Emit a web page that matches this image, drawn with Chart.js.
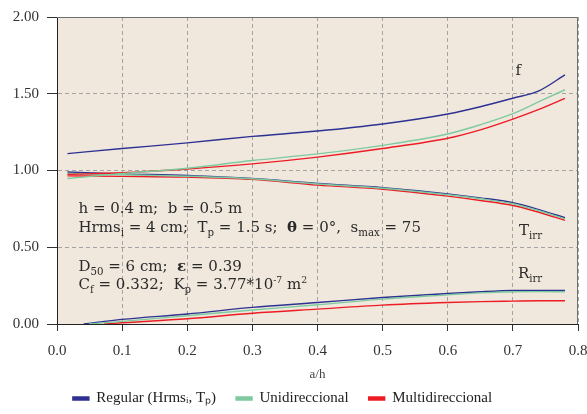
<!DOCTYPE html>
<html><head><meta charset="utf-8">
<script src="https://cdn.jsdelivr.net/npm/chart.js@4.4.1/dist/chart.umd.min.js"></script>
<style>html,body{margin:0;padding:0;background:#fff;}#wrap{width:587px;height:414px;}</style>
</head><body><div id="wrap"><canvas id="c" width="587" height="414"></canvas></div>
<script>
// ---- data ----
const seriesNames = ['Regular (Hrmsᵢ, Tₚ)', 'Unidireccional', 'Multidireccional'];
const xTicks = [0.0, 0.1, 0.2, 0.3, 0.4, 0.5, 0.6, 0.7, 0.8];
const yTicks = [0.00, 0.50, 1.00, 1.50, 2.00];

// f and T_irr curves share abscissae
const xFT = [0.016, 0.1, 0.2, 0.3, 0.4, 0.5, 0.6, 0.65, 0.7, 0.74, 0.78];
const fRegular = [1.110, 1.143, 1.180, 1.222, 1.257, 1.303, 1.368, 1.415, 1.471, 1.519, 1.623];
const fUni     = [0.948, 0.980, 1.015, 1.065, 1.108, 1.164, 1.238, 1.298, 1.370, 1.448, 1.526];
const fMulti   = [0.975, 0.985, 1.010, 1.043, 1.087, 1.143, 1.210, 1.265, 1.335, 1.398, 1.470];

const tRegular = [0.990, 0.978, 0.968, 0.948, 0.915, 0.888, 0.848, 0.822, 0.790, 0.745, 0.692];
const tUni     = [0.980, 0.972, 0.963, 0.946, 0.912, 0.884, 0.842, 0.816, 0.783, 0.738, 0.685];
const tMulti   = [0.965, 0.962, 0.957, 0.942, 0.905, 0.878, 0.833, 0.805, 0.772, 0.728, 0.675];

// R_irr curves (each starts at its own abscissa)
const xRRegular = [0.041, 0.1, 0.2, 0.3, 0.4, 0.5, 0.6, 0.65, 0.7, 0.74, 0.78];
const rRegular  = [0.000, 0.030, 0.065, 0.108, 0.140, 0.173, 0.199, 0.210, 0.218, 0.219, 0.218];
const xRUni     = [0.049, 0.1, 0.2, 0.3, 0.4, 0.5, 0.6, 0.65, 0.7, 0.74, 0.78];
const rUni      = [0.000, 0.017, 0.054, 0.091, 0.125, 0.162, 0.190, 0.203, 0.210, 0.211, 0.210];
const xRMulti   = [0.072, 0.1, 0.2, 0.3, 0.4, 0.5, 0.6, 0.65, 0.7, 0.74, 0.78];
const rMulti    = [0.000, 0.008, 0.034, 0.070, 0.097, 0.123, 0.140, 0.146, 0.149, 0.151, 0.151];

// ---- styling ----
const colors = ['#2E3192', '#7FCA9F', '#ED1C24'];
const pts = (xs, ys) => xs.map((x, i) => ({x: x, y: ys[i]}));
function ds(label, xs, ys, ci) {
  return {label: label, data: pts(xs, ys), borderColor: colors[ci], backgroundColor: colors[ci],
          borderWidth: 1.4, pointRadius: 0, cubicInterpolationMode: 'monotone', fill: false};
}
const datasets = [
  ds(seriesNames[0], xFT, fRegular, 0),
  ds(seriesNames[1], xFT, fUni, 1),
  ds(seriesNames[2], xFT, fMulti, 2),
  ds('_T0', xFT, tUni, 1),
  ds('_T1', xFT, tMulti, 2),
  ds('_T2', xFT, tRegular, 0),
  ds('_R0', xRUni, rUni, 1),
  ds('_R1', xRMulti, rMulti, 2),
  ds('_R2', xRRegular, rRegular, 0)
];

const SERIF = '"DejaVu Serif", serif';
const LSERIF = '"Liberation Serif", serif';

function drawRich(ctx, parts, x, y, size) {
  let cx = x;
  for (const [t, mode] of parts) {
    let fs = size, dy = 0, weight = 'normal';
    if (mode === 'sub') { fs = size * 0.68; dy = size * 0.28; }
    else if (mode === 'sup') { fs = size * 0.62; dy = -size * 0.42; }
    else if (mode === 'b') { weight = 'bold'; }
    ctx.font = weight + ' ' + fs + 'px ' + SERIF;
    ctx.fillText(t, cx, y + dy);
    cx += ctx.measureText(t).width;
  }
}

const annotations = [
  {x: 0.033, y: 0.725, parts: [['h = 0.4 m;  b = 0.5 m', '']]},
  {x: 0.033, y: 0.601, parts: [['Hrms', ''], ['i', 'sub'], [' = 4 cm;  T', ''], ['p', 'sub'], [' = 1.5 s;  ', ''], ['θ', 'b'], [' = 0°,  s', ''], ['max', 'sub'], [' = 75', '']]},
  {x: 0.033, y: 0.346, parts: [['D', ''], ['50', 'sub'], [' = 6 cm;  ', ''], ['ε', 'b'], [' = 0.39', '']]},
  {x: 0.033, y: 0.227, parts: [['C', ''], ['f', 'sub'], [' = 0.332;  K', ''], ['p', 'sub'], [' = 3.77*10', ''], ['-7', 'sup'], [' m', ''], ['2', 'sup']]},
  {x: 0.704, y: 1.619, parts: [['f', '']]},
  {x: 0.7095, y: 0.58, parts: [['T', ''], ['irr', 'sub']]},
  {x: 0.7077, y: 0.299, parts: [['R', ''], ['irr', 'sub']]}
];

const framePlugin = {
  id: 'frame',
  afterLayout(chart) {
    // the reference legend sits slightly left of the canvas centre
    if (chart.legend) { chart.legend.left -= 11; chart.legend.right -= 11; }
  },
  beforeDraw(chart) {
    const {ctx, chartArea: a} = chart;
    ctx.save();
    ctx.fillStyle = '#ffffff';
    ctx.fillRect(0, 0, chart.width, chart.height);
    ctx.fillStyle = '#F0E8DD';
    ctx.fillRect(a.left, a.top, a.right - a.left, a.bottom - a.top);
    ctx.restore();
  },
  afterDatasetsDraw(chart) {
    const {ctx, scales} = chart;
    ctx.save();
    ctx.fillStyle = '#2a2a2a';
    ctx.textBaseline = 'alphabetic';
    ctx.textAlign = 'left';
    for (const an of annotations) {
      drawRich(ctx, an.parts, scales.x.getPixelForValue(an.x), scales.y.getPixelForValue(an.y), 15);
    }
    ctx.restore();
  },
  afterDraw(chart) {
    const {ctx, chartArea: a} = chart;
    ctx.save();
    ctx.strokeStyle = '#6e6e6e';
    ctx.lineWidth = 1;
    ctx.beginPath();
    ctx.moveTo(a.left, a.top + 0.5);
    ctx.lineTo(a.right - 0.5, a.top + 0.5);
    ctx.lineTo(a.right - 0.5, a.bottom);
    ctx.stroke();
    ctx.restore();
  }
};

new Chart(document.getElementById('c'), {
  type: 'line',
  data: {datasets: datasets},
  plugins: [framePlugin],
  options: {
    responsive: false,
    devicePixelRatio: 1,
    animation: false,
    layout: {padding: {top: 16, right: 0, bottom: -2, left: 0}},
    scales: {
      x: {
        type: 'linear', min: 0, max: 0.8,
        afterBuildTicks: s => { s.ticks = xTicks.map(v => ({value: v})); },
        afterFit: s => { s.height = 47; s.paddingRight = 9; s.paddingLeft = 0; },
        ticks: {callback: v => Number(v).toFixed(1), font: {family: LSERIF, size: 15}, color: '#333',
                padding: 11, maxRotation: 0, autoSkip: false},
        grid: {color: '#a3a3a3', tickColor: '#333', tickLength: 7, tickBorderDash: [1, 0], lineWidth: 1},
        border: {color: '#222', width: 1, dash: [4, 3]},
        title: {display: true, text: 'a/h', font: {family: LSERIF, size: 13}, color: '#444', padding: {top: 0, bottom: -11}}
      },
      y: {
        type: 'linear', min: 0, max: 2,
        afterBuildTicks: s => { s.ticks = yTicks.map(v => ({value: v})); },
        afterFit: s => { s.width = 57; },
        ticks: {callback: v => Number(v).toFixed(2), font: {family: LSERIF, size: 15}, color: '#333', padding: 8},
        grid: {color: '#a3a3a3', tickColor: '#333', tickLength: 10, tickBorderDash: [1, 0], lineWidth: 1},
        border: {color: '#222', width: 1, dash: [4, 3]}
      }
    },
    plugins: {
      tooltip: {enabled: false},
      legend: {
        position: 'bottom',
        labels: {
          filter: item => !item.text.startsWith('_'),
          font: {family: LSERIF, size: 15}, color: '#222',
          boxWidth: 16, boxHeight: 3, padding: 20
        }
      }
    }
  }
});
</script>
</body></html>
